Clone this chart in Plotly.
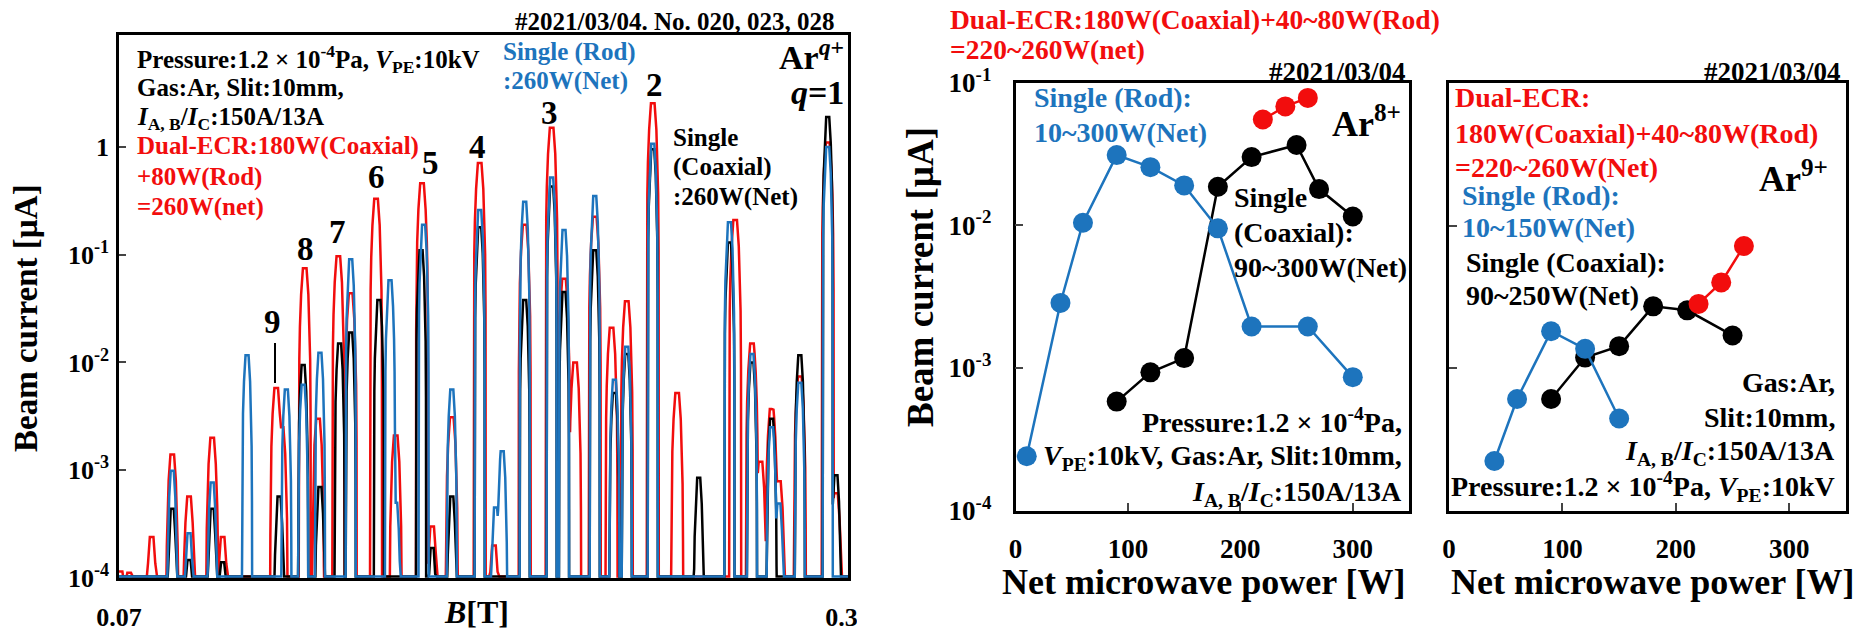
import plotly.graph_objects as go

W, H = 1872, 632
def px(x): return x / W
def py(y): return 1 - y / H

# ---------------- Left panel: Ar^q+ spectra vs B ----------------
red_B = [0.0705, 0.0732, 0.0803, 0.0868, 0.0921, 0.0994, 0.1027, 0.1196, 0.1213, 0.1286, 0.1328,
         0.1392, 0.1431, 0.1511, 0.1573, 0.1656, 0.1688, 0.1750, 0.1838, 0.1883, 0.1980, 0.2065,
         0.2104, 0.2139, 0.2201, 0.2254, 0.2302, 0.2384, 0.2461, 0.2644, 0.2697, 0.2724, 0.2759,
         0.2782, 0.2848, 0.2936, 0.2962]
red_I = [1.15e-4, 1.12e-4, 2.4e-4, 1.4e-3, 5.7e-4, 2.0e-3, 2.4e-4, 5.8e-3, 2.5e-3, 7.5e-2, 3.0e-3,
         9.7e-2, 4.4e-2, 0.33, 2.1e-3, 0.46, 3.0e-4, 3.1e-3, 0.71, 2.0e-4, 0.19, 1.51,
         0.06, 1.0e-2, 0.225, 2.1e-2, 3.7e-2, 2.54, 5.2e-3, 0.21, 1.5e-2, 1.2e-3, 3.7e-3,
         7.9e-4, 7.4e-3, 1.1, 6.1e-4]

black_B = [0.0868, 0.0921, 0.0994, 0.1027, 0.1205, 0.1281, 0.1334, 0.1396, 0.1431, 0.1520, 0.1653,
           0.1688, 0.1750, 0.1838, 0.1980, 0.2065, 0.2104, 0.2201, 0.2263, 0.2302, 0.2384, 0.2529,
           0.2626, 0.2697, 0.2759, 0.2848, 0.2936, 0.2962]
black_I = [4.4e-4, 1.47e-4, 4.4e-4, 1.4e-4, 5.7e-4, 9.5e-3, 7.0e-4, 1.5e-2, 1.9e-2, 3.8e-2, 0.11,
           1.9e-4, 5.7e-4, 0.18, 3.8e-2, 0.43, 4.5e-2, 0.11, 5.2e-3, 1.2e-2, 0.95, 8.5e-4,
           0.13, 1.0e-2, 3.0e-3, 1.17e-2, 1.9, 9e-4]

blue_B = [0.0868, 0.0921, 0.0994, 0.1104, 0.1228, 0.1281, 0.1334, 0.1431, 0.1555, 0.1573, 0.1661,
          0.1750, 0.1838, 0.1888, 0.1909, 0.1980, 0.2065, 0.2104, 0.2201, 0.2263, 0.2302, 0.2384,
          0.2626, 0.2697, 0.2759, 0.2782, 0.2848, 0.2936]
blue_I = [9.9e-4, 2.6e-4, 7.7e-4, 1.17e-2, 5.6e-3, 6.2e-3, 1.23e-2, 9.1e-2, 5.8e-2, 5e-4, 0.19,
          5.6e-3, 0.26, 4.5e-4, 1.5e-3, 0.31, 0.52, 0.17, 0.35, 6.9e-3, 1.4e-2, 1.07,
          0.2, 1.2e-2, 2.5e-3, 4.9e-4, 6.5e-3, 1.0]

left_yticks = [1e-4, 1e-3, 1e-2, 1e-1, 1]
left_yticktext = ["10<sup>-4</sup>", "10<sup>-3</sup>", "10<sup>-2</sup>", "10<sup>-1</sup>", "1"]
peak_labels = ["2", "3", "4", "5", "6", "7", "8", "9"]

# ---------------- Middle panel: Ar8+ ----------------
rod8_P = [10, 40, 60, 90, 120, 150, 180, 210, 260, 300]
rod8_I = [2.4e-4, 2.85e-3, 1.04e-2, 3.1e-2, 2.55e-2, 1.9e-2, 9.5e-3, 1.95e-3, 1.95e-3, 8.6e-4]
coax8_P = [90, 120, 150, 180, 210, 250, 270, 300]
coax8_I = [5.8e-4, 9.3e-4, 1.17e-3, 1.86e-2, 3.0e-2, 3.65e-2, 1.79e-2, 1.15e-2]
dual8_P = [220, 240, 260]
dual8_I = [5.5e-2, 6.8e-2, 7.8e-2]

# ---------------- Right panel: Ar9+ ----------------
rod9_P = [40, 60, 90, 120, 150]
rod9_I = [2.24e-4, 6.1e-4, 1.82e-3, 1.37e-3, 4.45e-4]
coax9_P = [90, 120, 150, 180, 210, 250]
coax9_I = [6.1e-4, 1.19e-3, 1.43e-3, 2.72e-3, 2.55e-3, 1.70e-3]
dual9_P = [220, 240, 260]
dual9_I = [2.83e-3, 4.0e-3, 7.2e-3]

pow_ticks = [0, 100, 200, 300]
pow_yticks = [1e-4, 1e-3, 1e-2, 1e-1]
pow_yticktext = ["10<sup>-4</sup>", "10<sup>-3</sup>", "10<sup>-2</sup>", "10<sup>-1</sup>"]

RED = "#f20d0d"
BLUE = "#1d74bd"
BLACK = "#000000"
FONT = "Liberation Serif"

# peak glyph drawing (style of each peak line)
FLOOR = 1.03e-4
GLYPH_DX = [-1, -0.97, -0.9, -0.8, -0.6, -0.3, 0.0, 0.3, 0.6, 0.8, 0.9, 0.97, 1]

def glyph(d, w):
    return max(0.0, min(1.0, (1 - abs(d) / w) / 0.7))

def spectrum(Bs, Is, w):
    xs = sorted(set([0.07, 0.30] + [round(b + f * w, 6) for b in Bs for f in GLYPH_DX]))
    xs = [x for x in xs if 0.07 <= x <= 0.30]
    ys = [max([FLOOR] + [h * glyph(x - b, w) for b, h in zip(Bs, Is)]) for x in xs]
    return xs, ys

fig = go.Figure()
for Bs, Is, col, w in [(red_B, red_I, RED, 0.0019), (black_B, black_I, BLACK, 0.0016),
                       (blue_B, blue_I, BLUE, 0.0016)]:
    xs, ys = spectrum(Bs, Is, w)
    fig.add_trace(go.Scatter(x=xs, y=ys, mode="lines", line=dict(color=col, width=2.5),
                             xaxis="x", yaxis="y", showlegend=False))

for P, I, col, ax in [(coax8_P, coax8_I, BLACK, "2"), (rod8_P, rod8_I, BLUE, "2"), (dual8_P, dual8_I, RED, "2"),
                      (coax9_P, coax9_I, BLACK, "3"), (rod9_P, rod9_I, BLUE, "3"), (dual9_P, dual9_I, RED, "3")]:
    fig.add_trace(go.Scatter(x=P, y=I, mode="lines+markers", line=dict(color=col, width=2.5),
                             marker=dict(color=col, size=20), xaxis="x" + ax, yaxis="y" + ax,
                             showlegend=False))

frame = dict(showline=True, mirror=True, linecolor="black", linewidth=2.5, showgrid=False,
             zeroline=False, automargin=False)
tf = dict(family=FONT, size=26, color="black", weight="bold")

fig.update_layout(
    template="none",
    width=W, height=H, autosize=False, margin=dict(l=0, r=0, t=0, b=0, pad=0),
    paper_bgcolor="white", plot_bgcolor="white",
    xaxis=dict(**frame, domain=[px(119), px(848)], range=[0.07, 0.30], ticks="",
               tickvals=[0.07, 0.30], ticktext=["0.07", "0.30"], tickfont=tf, anchor="y",
               layer="below traces", ticklabelstandoff=14),
    yaxis=dict(**frame, type="log", domain=[py(578), py(35)], range=[-4, 1.039], ticks="inside",
               ticklen=7, tickwidth=2, tickvals=left_yticks, ticktext=left_yticktext, tickfont=tf,
               anchor="x", layer="below traces", ticklabelstandoff=2),
    xaxis2=dict(**frame, domain=[px(1015.5), px(1409)], range=[0, 350], ticks="inside", ticklen=8,
                tickwidth=2, tickvals=pow_ticks, tickfont=dict(tf, size=27), anchor="y2",
                ticklabelstandoff=12),
    yaxis2=dict(**frame, type="log", domain=[py(510.5), py(82.5)], range=[-4, -1], ticks="inside",
                ticklen=8, tickwidth=2, tickvals=pow_yticks, ticktext=pow_yticktext,
                tickfont=dict(tf, size=27), anchor="x2", ticklabelstandoff=16),
    xaxis3=dict(**frame, domain=[px(1449), px(1846)], range=[0, 350], ticks="inside", ticklen=8,
                tickwidth=2, tickvals=pow_ticks, tickfont=dict(tf, size=27), anchor="y3",
                ticklabelstandoff=12),
    yaxis3=dict(**frame, type="log", domain=[py(511), py(83)], range=[-4, -1], ticks="inside",
                ticklen=8, tickwidth=2, tickvals=pow_yticks, showticklabels=False, anchor="x3"),
)

anns = []
def ann(text, x, y, color=BLACK, size=25, xanchor="left", angle=0):
    anns.append(dict(text="<b>" + text + "</b>", x=px(x), y=py(y), xref="paper", yref="paper",
                     xanchor=xanchor, yanchor="middle", showarrow=False, textangle=angle,
                     font=dict(family=FONT, size=size, color=color)))

PRESS = "Pressure:1.2 × 10<sup>-4</sup>Pa"
VPE = "<i>V</i><sub>PE</sub>:10kV"
IABC = "<i>I</i><sub>A, B</sub>/<i>I</i><sub>C</sub>:150A/13A"

# left panel texts
ann("#2021/03/04. No. 020, 023, 028", 836, 22, xanchor="right")
ann(PRESS + ", " + VPE, 135, 59)
ann("Gas:Ar, Slit:10mm,", 135, 88)
ann(IABC, 135, 118)
ann("Dual-ECR:180W(Coaxial)", 135, 146, RED)
ann("+80W(Rod)", 135, 177, RED)
ann("=260W(net)", 135, 207, RED)
ann("Single (Rod)", 501, 52, BLUE)
ann(":260W(Net)", 501, 81, BLUE)
ann("Single", 671, 137)
ann("(Coaxial)", 671, 167)
ann(":260W(Net)", 671, 197)
ann("Ar<sup><i>q</i>+</sup>", 846, 55, size=34, xanchor="right")
ann("<i>q</i>=1", 846, 92, size=34, xanchor="right")
for lab, (lx, ly) in zip(peak_labels, [(654, 85), (549, 113), (478, 147), (430, 163), (376, 177),
                                       (337, 232), (305, 249), (272, 322)]):
    ann(lab, lx, ly, size=33, xanchor="center")
ann("Beam current [µA]", 26, 318, size=33, xanchor="center", angle=-90)
ann("<i>B</i>[T]", 477, 612, size=32, xanchor="center")

# middle panel texts
ann("Dual-ECR:180W(Coaxial)+40~80W(Rod)", 948, 19, RED, size=27.5)
ann("=220~260W(net)", 948, 50, RED, size=27.5)
ann("#2021/03/04", 1408, 72, size=27, xanchor="right")
ann("Single (Rod):", 1032, 98, BLUE, size=28)
ann("10~300W(Net)", 1032, 132, BLUE, size=28)
ann("Ar<sup>8+</sup>", 1330, 121, size=36)
ann("Single", 1232, 197, size=28)
ann("(Coaxial):", 1232, 233, size=28)
ann("90~300W(Net)", 1232, 267, size=28)
ann(PRESS + ",", 1404, 420, size=28, xanchor="right")
ann(VPE + ", Gas:Ar, Slit:10mm,", 1404, 457, size=28, xanchor="right")
ann(IABC, 1404, 493, size=28, xanchor="right")
ann("Beam current [µA]", 920, 277, size=37, xanchor="center", angle=-90)
ann("Net microwave power [W]", 1204, 582, size=36, xanchor="center")

# right panel texts
ann("#2021/03/04", 1843, 72, size=27, xanchor="right")
ann("Dual-ECR:", 1453, 98, RED, size=28)
ann("180W(Coaxial)+40~80W(Rod)", 1453, 133, RED, size=28)
ann("=220~260W(Net)", 1453, 168, RED, size=28)
ann("Single (Rod):", 1460, 195, BLUE, size=28)
ann("10~150W(Net)", 1460, 228, BLUE, size=28)
ann("Single (Coaxial):", 1464, 262, size=28)
ann("90~250W(Net)", 1464, 295, size=28)
ann("Ar<sup>9+</sup>", 1757, 177, size=36)
ann("Gas:Ar,", 1837, 382, size=28, xanchor="right")
ann("Slit:10mm,", 1837, 417, size=28, xanchor="right")
ann(IABC, 1837, 452, size=28, xanchor="right")
ann(PRESS + ", " + VPE, 1837, 486, size=28, xanchor="right")
ann("Net microwave power [W]", 1653, 582, size=36, xanchor="center")

fig.update_layout(annotations=anns)
fig.update_layout(shapes=[
    dict(type="line", xref="paper", yref="paper", x0=px(275), x1=px(275), y0=py(343), y1=py(383),
         line=dict(color="black", width=2)),
    dict(type="rect", xref="paper", yref="paper", x0=px(857), x1=px(900), y0=py(632), y1=py(585),
         fillcolor="white", line=dict(width=0), layer="above"),
])

fig.write_html("out.html",
               post_script="document.body.style.margin='0';document.documentElement.style.margin='0';"
                           "document.body.style.overflow='hidden';")
